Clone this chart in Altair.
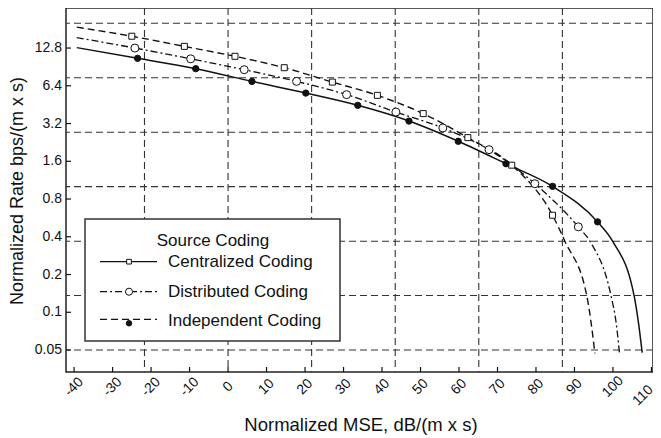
import altair as alt
import pandas as pd

# ---------------- data ----------------
x_ticks = [-40, -30, -20, -10, 0, 10, 20, 30, 40, 50, 60, 70, 80, 90, 100, 110]
x_tick_labels = ["-40", "-30", "-20", "-10", "0", "10", "20", "30", "40", "50",
                 "60", "70", "80", "90", "100", "110"]
y_ticks = [0.05, 0.1, 0.2, 0.4, 0.8, 1.6, 3.2, 6.4, 12.8]
y_tick_labels = ["0.05", "0.1", "0.2", "0.4", "0.8", "1.6", "3.2", "6.4", "12.8"]
grid_x = [-21.71, 0.0, 21.71, 43.43, 65.14, 86.86]
grid_y = [0.05, 0.136, 0.369, 1.004, 2.73, 7.42, 20.17]

# dashed curve with open squares
cent_line_x = [-39.3, -25.0, -11.35, 1.8, 14.6, 27.1, 38.8, 50.7, 62.3, 73.7, 84.3, 87.5, 93.2, 94.3, 95.3]
cent_line_y = [18.8, 15.9, 13.2, 11.0, 8.92, 6.85, 5.37, 3.84, 2.47, 1.49, 0.594, 0.369, 0.135, 0.0836, 0.047]
cent_mark_x = [-25.0, -11.35, 1.8, 14.6, 27.1, 38.8, 50.7, 62.3, 73.7, 84.3]
cent_mark_y = [15.9, 13.2, 11.0, 8.92, 6.85, 5.37, 3.84, 2.47, 1.49, 0.594]

# dash-dot curve with open circles
dist_line_x = [-39.3, -24.2, -9.7, 4.2, 17.8, 30.8, 43.6, 55.8, 67.8, 79.7, 91.0, 94.0, 99.5, 100.8, 101.7]
dist_line_y = [15.5, 12.8, 10.5, 8.6, 6.94, 5.44, 3.95, 2.95, 1.98, 1.06, 0.48, 0.369, 0.135, 0.0836, 0.047]
dist_mark_x = [-24.2, -9.7, 4.2, 17.8, 30.8, 43.6, 55.8, 67.8, 79.7, 91.0]
dist_mark_y = [12.8, 10.5, 8.6, 6.94, 5.44, 3.95, 2.95, 1.98, 1.06, 0.48]

# solid curve with filled dots
ind_line_x = [-39.3, -23.5, -8.4, 6.2, 20.2, 33.7, 47.0, 59.8, 72.2, 84.3, 96.0, 99.9, 105.5, 106.6, 107.6]
ind_line_y = [12.9, 10.6, 8.76, 6.94, 5.6, 4.47, 3.35, 2.31, 1.53, 1.01, 0.526, 0.369, 0.135, 0.0836, 0.0476]
ind_mark_x = [-23.5, -8.4, 6.2, 20.2, 33.7, 47.0, 59.8, 72.2, 84.3, 96.0]
ind_mark_y = [10.6, 8.76, 6.94, 5.6, 4.47, 3.35, 2.31, 1.53, 1.01, 0.526]

x_title = "Normalized MSE, dB/(m x s)"
y_title = "Normalized Rate bps/(m x s)"
legend_title = "Source Coding"
legend_labels = ["Centralized Coding", "Distributed Coding", "Independent Coding"]

# ---------------- styling ----------------
FONT = "Liberation Sans"
INK = "#111111"
W, H = 587, 364

xs = alt.Scale(domain=[-42.1, 110.4], nice=False, zero=False)
ys = alt.Scale(type="log", domain=[0.0334, 26.7], nice=False)

grid_dash = [7, 4]
dash_a = [7, 4]
dashdot = [7, 3, 2, 3]


def X(f):
    return alt.X(f, scale=xs, axis=None)


def Y(f):
    return alt.Y(f, scale=ys, axis=None)


gx = alt.Chart(pd.DataFrame({"gx": grid_x})).mark_rule(
    color="#333333", strokeWidth=1.1, strokeDash=grid_dash).encode(x=X("gx:Q"))
gy = alt.Chart(pd.DataFrame({"gy": grid_y})).mark_rule(
    color="#333333", strokeWidth=1.1, strokeDash=grid_dash).encode(y=Y("gy:Q"))

xdf = pd.DataFrame({"tx": x_ticks, "lab": x_tick_labels})
ydf = pd.DataFrame({"ty": y_ticks, "lab": y_tick_labels})

xt = alt.Chart(xdf).mark_rule(color=INK, strokeWidth=1.2).encode(
    x=X("tx:Q"), y=alt.value(H - 5), y2=alt.value(H))
yt = alt.Chart(ydf).mark_rule(color=INK, strokeWidth=1.2).encode(
    y=Y("ty:Q"), x=alt.value(0), x2=alt.value(5))

xl = alt.Chart(xdf).transform_filter(alt.datum.tx < 105).mark_text(
    font=FONT, fontSize=14, color=INK, angle=315, align="center", baseline="middle").encode(
    x=X("tx:Q"), y=alt.value(H + 15), text="lab:N")
# last label nudged left so it stays inside the page
xl_last = alt.Chart(xdf).transform_filter(alt.datum.tx >= 105).mark_text(
    font=FONT, fontSize=14, color=INK, angle=315, align="center", baseline="middle",
    dx=-12).encode(x=X("tx:Q"), y=alt.value(H + 15), text="lab:N")
yl = alt.Chart(ydf).mark_text(font=FONT, fontSize=14, color=INK,
                              align="right", baseline="middle").encode(
    y=Y("ty:Q"), x=alt.value(-4), text="lab:N")


def curve(xv, yv, dash=None, width=1.4):
    kw = dict(color=INK, strokeWidth=width, interpolate="monotone")
    if dash:
        kw["strokeDash"] = dash
    return alt.Chart(pd.DataFrame({"x": xv, "y": yv})).mark_line(**kw).encode(
        x=X("x:Q"), y=Y("y:Q"), order="x:Q")


def markers(xv, yv, shape, size, fill):
    return alt.Chart(pd.DataFrame({"x": xv, "y": yv})).mark_point(
        shape=shape, size=size, filled=True, fill=fill, stroke=INK, strokeWidth=1,
        opacity=1).encode(x=X("x:Q"), y=Y("y:Q"))


one = pd.DataFrame({"k": [0]})


def label(text, x, y, size, align="center", angle=0):
    kw = dict(text=text, font=FONT, fontSize=size, color=INK, align=align,
              baseline="alphabetic")
    if angle:
        kw["angle"] = angle
    return alt.Chart(one).mark_text(**kw).encode(x=alt.value(x), y=alt.value(y))


layers = [gx, gy, xt, yt, xl, xl_last, yl,
          curve(cent_line_x, cent_line_y, dash_a, 1.4),
          curve(dist_line_x, dist_line_y, dashdot, 1.3),
          curve(ind_line_x, ind_line_y, None, 1.5),
          markers(cent_mark_x, cent_mark_y, "square", 36, "white"),
          markers(dist_mark_x, dist_mark_y, "circle", 64, "white"),
          markers(ind_mark_x, ind_mark_y, "circle", 40, INK),
          label(x_title, 295, 423, 18.5),
          label(y_title, -43, 183, 18, angle=270)]

# legend box (layout only, view pixel coordinates)
layers.append(alt.Chart(one).mark_rect(fill="white", stroke="#333333", strokeWidth=1.5).encode(
    x=alt.value(19), x2=alt.value(274), y=alt.value(211), y2=alt.value(333)))
layers.append(label(legend_title, 147, 238, 17))

row_line_y = [253.7, 283.7, 311.3]
row_mark_y = [253.7, 283.7, 315.3]
row_text_y = [259.3, 288.7, 318.0]
row_dash = [None, dashdot, dash_a]
row_shape = [("square", 22, "white"), ("circle", 50, "white"), ("circle", 30, INK)]

for i, lab in enumerate(legend_labels):
    kw = dict(color=INK, strokeWidth=1.3)
    if row_dash[i]:
        kw["strokeDash"] = row_dash[i]
    layers.append(alt.Chart(one).mark_rule(**kw).encode(
        x=alt.value(34), x2=alt.value(91), y=alt.value(row_line_y[i])))
    shp, sz, fl = row_shape[i]
    layers.append(alt.Chart(one).mark_point(shape=shp, size=sz, filled=True, fill=fl,
                                            stroke=INK, strokeWidth=1, opacity=1).encode(
        x=alt.value(63), y=alt.value(row_mark_y[i])))
    layers.append(label(lab, 102, row_text_y[i], 17, align="left"))

chart = alt.layer(*layers).properties(
    width=W, height=H,
    autosize=alt.AutoSizeParams(type="none"),
    padding={"left": 58, "top": 0, "right": 0, "bottom": 66},
    background="white",
).configure_view(stroke="#222222", strokeWidth=1.5)

chart.save("out.html", embed_options={"renderer": "svg", "actions": False})
